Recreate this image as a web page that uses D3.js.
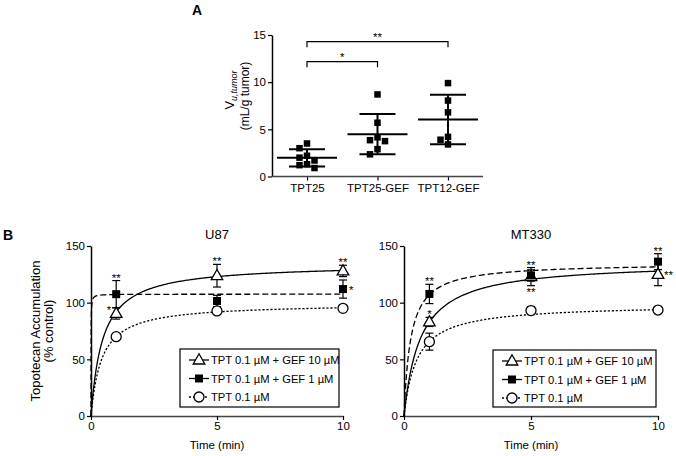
<!DOCTYPE html>
<html><head><meta charset="utf-8">
<script src="https://cdn.jsdelivr.net/npm/d3@7"></script>
<style>
body{margin:0;background:#fff}
svg{display:block}
text{font-family:"Liberation Sans",Arial,sans-serif;fill:#000}
</style>
</head><body>
<svg id="c" width="676" height="456"></svg>
<script>
// ---------- Panel A data ----------
const groupsA = ["TPT25", "TPT25-GEF", "TPT12-GEF"];
const valsTPT25 = [3.5, 3.0, 2.2, 2.0, 1.7, 1.3, 0.9, 1.2];
const valsTPT25GEF = [8.7, 5.7, 4.15, 3.85, 3.75, 2.9, 2.35];
const valsTPT12GEF = [9.9, 8.05, 6.8, 4.2, 3.9, 3.4];
const ticksA = [0, 5, 10, 15];
const sigA = [[0, 2, "**"], [0, 1, "*"]];

// ---------- Panel B data ----------
const times = [1, 5, 10];
const ticksBx = [0, 5, 10];
const ticksBy = [0, 50, 100, 150];
const seriesNames = ["TPT 0.1 µM + GEF 10 µM", "TPT 0.1 µM + GEF 1 µM", "TPT 0.1 µM"];
// U87
const u87Gef10 = [90.5, 123.8, 128], u87Gef10Err = [5, 10, 5];
const u87Gef1 = [107.5, 101.5, 112], u87Gef1Err = [12, 5, 8];
const u87Tpt = [70, 92.7, 95], u87TptErr = [2, 2, 2];
// MT330
const mtGef10 = [83, 123, 125], mtGef10Err = [4, 8, 10];
const mtGef1 = [107.7, 124, 136.2], mtGef1Err = [8.5, 5, 7];
const mtTpt = [65.6, 93, 93.5], mtTptErr = [7.5, 3.5, 3];
// hyperbolic fit parameters (Bmax, K)
const u87FitBmax = [134.3, 107.5, 99.5], u87FitK = [0.46, 0.003, 0.42];
const mtFitBmax = [136, 135, 98.5], mtFitK = [0.64, 0.262, 0.5];
// significance stars: [series index, time index, text, placement]
const u87Stars = [[1, 0, "**", "above"], [0, 0, "*", "left"], [0, 1, "**", "above"], [0, 2, "**", "above"], [1, 2, "*", "right"]];
const mtStars = [[1, 0, "**", "above"], [0, 0, "*", "above"], [0, 1, "**", "above"], [0, 1, "**", "below"], [1, 2, "**", "above"], [0, 2, "**", "right"]];

const FONT = '"Liberation Sans",Arial,sans-serif';
const svg = d3.select("#c");
svg.append("rect").attr("width", 676).attr("height", 456).attr("fill", "#fff");

function styleAxis(a, xAxis) {
  a.selectAll("text").style("font-family", FONT).style("font-size", "11.5px").attr("fill", "#000");
  a.selectAll("line").attr("stroke", "#000").attr("stroke-width", 1.2);
  a.select(".domain").attr("stroke", xAxis ? "#444" : "#000").attr("stroke-width", 1.5);
}

// ================= PANEL A =================
(function () {
  const g = svg.append("g");
  const x = d3.scalePoint().domain(groupsA).range([307, 448]);
  const y = d3.scaleLinear().domain([0, 15]).range([176.5, 35]);
  const allVals = [valsTPT25, valsTPT25GEF, valsTPT12GEF];

  const ya = g.append("g").attr("transform", "translate(272,0)")
    .call(d3.axisLeft(y).tickValues(ticksA).tickSize(4).tickSizeOuter(0).tickPadding(2));
  const xa = g.append("g").attr("transform", "translate(0,176.5)")
    .call(d3.axisBottom(x).tickSize(4).tickSizeOuter(0).tickPadding(3));
  xa.select(".domain").remove();
  g.append("line").attr("x1", 272).attr("x2", 483).attr("y1", 176.5).attr("y2", 176.5)
    .attr("stroke", "#444").attr("stroke-width", 1.5);
  styleAxis(ya, false); styleAxis(xa, true);

  const ms = 6.5, gap = 7.5;
  allVals.forEach((vals, gi) => {
    const cx = x(groupsA[gi]);
    const placed = [];
    vals.slice().sort((a, b) => b - a).forEach(v => {
      const py = y(v);
      let off = 0;
      for (let k = 0; k < 20; k++) {
        const cand = k === 0 ? 0 : (k % 2 ? -1 : 1) * Math.ceil(k / 2) * gap;
        if (placed.every(p => Math.hypot(p[0] - (cx + cand), p[1] - py) >= gap)) { off = cand; break; }
      }
      placed.push([cx + off, py]);
    });
    g.selectAll(null).data(placed).enter().append("rect")
      .attr("x", d => d[0] - ms / 2).attr("y", d => d[1] - ms / 2)
      .attr("width", ms).attr("height", ms).attr("fill", "#000");
    const m = d3.mean(vals), sd = d3.deviation(vals);
    g.append("line").attr("x1", cx - 30).attr("x2", cx + 30).attr("y1", y(m)).attr("y2", y(m)).attr("stroke", "#000").attr("stroke-width", 2);
    g.append("line").attr("x1", cx).attr("x2", cx).attr("y1", y(m + sd)).attr("y2", y(m - sd)).attr("stroke", "#000").attr("stroke-width", 2);
    [m + sd, m - sd].forEach(v => g.append("line").attr("x1", cx - 18).attr("x2", cx + 18).attr("y1", y(v)).attr("y2", y(v)).attr("stroke", "#000").attr("stroke-width", 2));
  });

  const by = [41.7, 61.7];
  sigA.forEach((s, i) => {
    const x1 = x(groupsA[s[0]]), x2 = x(groupsA[s[1]]), yy = by[i];
    g.append("path").attr("d", `M${x1},${yy + 5.5}V${yy}H${x2}V${yy + 5.5}`).attr("fill", "none").attr("stroke", "#000").attr("stroke-width", 1.2);
    g.append("text").attr("x", (x1 + x2) / 2).attr("y", yy - 0.5).attr("text-anchor", "middle").style("font-size", "11.5px").text(s[2]);
  });

  const lab = g.append("text").attr("transform", "translate(233.5,90) rotate(-90)").attr("text-anchor", "middle").style("font-size", "13px");
  lab.append("tspan").text("V");
  lab.append("tspan").attr("dy", 3).style("font-size", "9px").style("font-style", "italic").text("u,tumor");
  g.append("text").attr("transform", "translate(249,96) rotate(-90)").attr("text-anchor", "middle").style("font-size", "12px").text("(mL/g tumor)");

  g.append("text").attr("x", 192).attr("y", 15).style("font-size", "14px").style("font-weight", "bold").text("A");
})();

// ================= PANEL B =================
const triPath = "M0,-6.2L5.8,4L-5.8,4Z";
const dashes = [null, "6,3", "2.2,1.8"];

function drawPanel(cfg) {
  const g = svg.append("g");
  const x = d3.scaleLinear().domain([0, 10]).range(cfg.xr);
  const y = d3.scaleLinear().domain([0, 150]).range([416, 246]);

  const ya = g.append("g").attr("transform", `translate(${cfg.xr[0]},0)`)
    .call(d3.axisLeft(y).tickValues(ticksBy).tickSize(4).tickSizeOuter(0).tickPadding(2));
  const xa = g.append("g").attr("transform", "translate(0,416)")
    .call(d3.axisBottom(x).tickValues(ticksBx).tickSize(4).tickSizeOuter(0).tickPadding(2));
  styleAxis(ya, false); styleAxis(xa, true);

  g.append("text").attr("x", x(5)).attr("y", 239).attr("text-anchor", "middle").style("font-size", "13px").text(cfg.title);
  g.append("text").attr("x", x(5)).attr("y", 449).attr("text-anchor", "middle").style("font-size", "11.5px").text("Time (min)");

  const ts = d3.range(0, 0.1, 0.002).concat(d3.range(0.1, 10.0001, 0.05));
  [2, 1, 0].forEach(si => {
    const B = cfg.fitB[si], K = cfg.fitK[si];
    const line = d3.line().x(t => x(t)).y(t => y(B * t / (K + t)));
    g.append("path").attr("d", line(ts)).attr("fill", "none").attr("stroke", "#000")
      .attr("stroke-width", 1.3).attr("stroke-dasharray", dashes[si]);
  });

  [2, 0, 1].forEach(si => {
    cfg.vals[si].forEach((v, i) => {
      const e = cfg.errs[si][i], cx = x(times[i]);
      g.append("line").attr("x1", cx).attr("x2", cx).attr("y1", y(v - e)).attr("y2", y(v + e)).attr("stroke", "#000").attr("stroke-width", 1.2);
      [v - e, v + e].forEach(w => g.append("line").attr("x1", cx - 4).attr("x2", cx + 4).attr("y1", y(w)).attr("y2", y(w)).attr("stroke", "#000").attr("stroke-width", 1.2));
    });
  });

  cfg.vals[2].forEach((v, i) => g.append("circle").attr("cx", x(times[i])).attr("cy", y(v)).attr("r", 5).attr("fill", "#fff").attr("stroke", "#000").attr("stroke-width", 1.3));
  cfg.vals[0].forEach((v, i) => g.append("path").attr("d", triPath).attr("transform", `translate(${x(times[i])},${y(v)})`).attr("fill", "#fff").attr("stroke", "#000").attr("stroke-width", 1.3));
  cfg.vals[1].forEach((v, i) => g.append("rect").attr("x", x(times[i]) - 4).attr("y", y(v) - 4).attr("width", 8).attr("height", 8).attr("fill", "#000"));

  cfg.stars.forEach(s => {
    const v = cfg.vals[s[0]][s[1]], e = cfg.errs[s[0]][s[1]], cx = x(times[s[1]]);
    let tx = cx, ty, anchor = "middle";
    if (s[3] === "above") ty = y(v + e) + 1;
    else if (s[3] === "below") ty = y(v - e) + 10;
    else if (s[3] === "left") { tx = cx - 5; ty = y(v) + 1; anchor = "end"; }
    else { tx = cx + 6; ty = y(v) + 5; anchor = "start"; }
    g.append("text").attr("x", tx).attr("y", ty).attr("text-anchor", anchor).style("font-size", "11.5px").text(s[2]);
  });

  const L = cfg.legend;
  g.append("rect").attr("x", L[0]).attr("y", L[1]).attr("width", L[2]).attr("height", L[3]).attr("fill", "#fff").attr("stroke", "#000").attr("stroke-width", 1.2);
  const sx = L[0] + 19;
  [0, 1, 2].forEach(si => {
    const yy = L[1] + 11 + si * 18.5;
    g.append("line").attr("x1", sx - 10).attr("x2", sx + 10).attr("y1", yy).attr("y2", yy).attr("stroke", "#000").attr("stroke-width", 1.3).attr("stroke-dasharray", si === 2 ? "2,2" : null);
    if (si === 0) g.append("path").attr("d", triPath).attr("transform", `translate(${sx},${yy})`).attr("fill", "#fff").attr("stroke", "#000").attr("stroke-width", 1.3);
    if (si === 1) g.append("rect").attr("x", sx - 4).attr("y", yy - 4).attr("width", 8).attr("height", 8).attr("fill", "#000");
    if (si === 2) g.append("circle").attr("cx", sx).attr("cy", yy).attr("r", 5).attr("fill", "#fff").attr("stroke", "#000").attr("stroke-width", 1.3);
    g.append("text").attr("x", sx + 12).attr("y", yy + 4).style("font-size", "11.2px").text(seriesNames[si]);
  });
}

drawPanel({
  title: "U87", xr: [91, 343],
  vals: [u87Gef10, u87Gef1, u87Tpt], errs: [u87Gef10Err, u87Gef1Err, u87TptErr],
  fitB: u87FitBmax, fitK: u87FitK, stars: u87Stars, legend: [180, 349, 159, 58]
});
drawPanel({
  title: "MT330", xr: [404, 658],
  vals: [mtGef10, mtGef1, mtTpt], errs: [mtGef10Err, mtGef1Err, mtTptErr],
  fitB: mtFitBmax, fitK: mtFitK, stars: mtStars, legend: [493, 350, 163, 57]
});

svg.append("text").attr("transform", "translate(39.5,331) rotate(-90)").attr("text-anchor", "middle").style("font-size", "13px").text("Topotecan Accumulation");
svg.append("text").attr("transform", "translate(52.5,331) rotate(-90)").attr("text-anchor", "middle").style("font-size", "13px").text("(% control)");
svg.append("text").attr("x", 3).attr("y", 240).style("font-size", "14px").style("font-weight", "bold").text("B");
</script>
</body></html>
